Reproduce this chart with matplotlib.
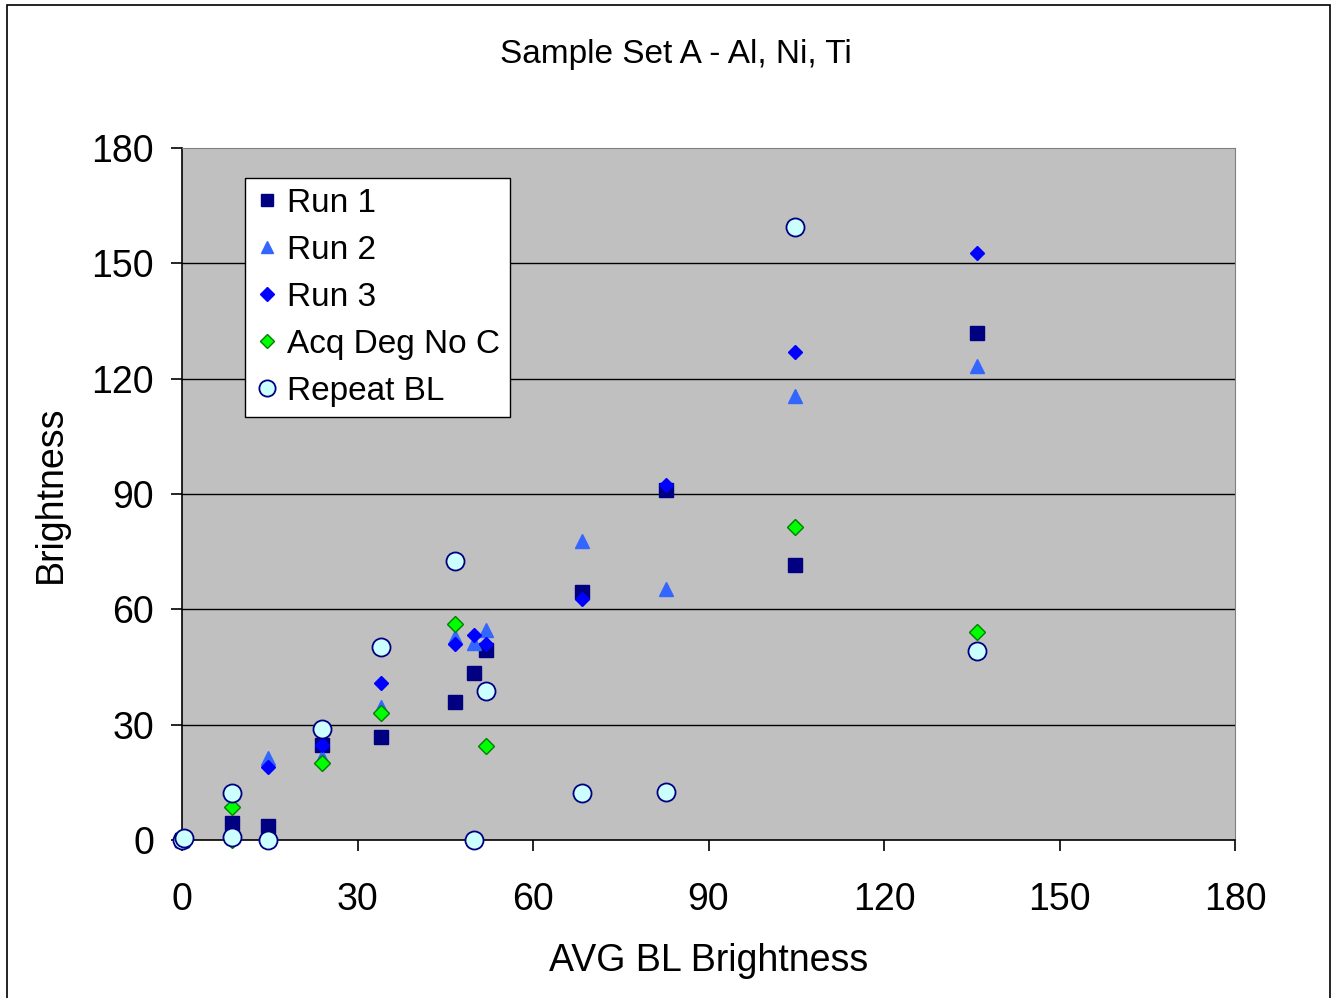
import matplotlib
matplotlib.use("Agg")
import matplotlib.pyplot as plt
from matplotlib.patches import Rectangle

# ─── DATA ────────────────────────────────────────────────────
run1_x = [0, 8.5, 14.7, 23.9, 34.0, 46.7, 49.9, 52.0, 68.4, 82.7, 104.8, 135.9]
run1_y = [0, 4.5, 3.6, 24.6, 26.9, 36.0, 43.4, 49.4, 64.6, 91.0, 71.5, 132.0]

run2_x = [0, 14.7, 23.9, 34.0, 46.7, 49.9, 52.0, 68.4, 82.7, 104.8, 135.9]
run2_y = [0, 21.3, 21.7, 34.7, 52.9, 51.3, 54.5, 77.9, 65.2, 115.5, 123.4]

run3_x = [0, 14.7, 23.9, 34.0, 46.7, 49.9, 52.0, 68.4, 82.7, 104.8, 135.9]
run3_y = [0, 19.1, 24.6, 40.8, 51.1, 53.4, 51.1, 62.7, 92.3, 126.9, 152.8]

acq_x = [8.5, 8.5, 23.9, 34.0, 46.7, 52.0, 104.8, 135.9]
acq_y = [0, 8.6, 20.0, 33.0, 56.1, 24.5, 81.5, 54.2]

rep_x = [0, 0.4, 8.5, 8.5, 14.7, 23.9, 34.0, 46.7, 49.9, 52.0, 68.4, 82.7, 104.8, 135.9]
rep_y = [0, 0.5, 12.3, 0.7, 0, 28.8, 50.3, 72.7, 0, 38.7, 12.3, 12.6, 159.5, 49.2]

TICKS = [0, 30, 60, 90, 120, 150, 180]
FONT = "Liberation Sans"

# ─── FIGURE ──────────────────────────────────────────────────
fig = plt.figure(figsize=(13.32, 9.98), dpi=100)
ax = fig.add_axes([182 / 1332, 158 / 998, 1053 / 1332, 692 / 998])
ax.set_facecolor("#C0C0C0")

# bordure extérieure
fig.patches.append(Rectangle((7 / 1332, -0.01), 1323 / 1332, 1.0 - 5 / 998 + 0.01,
                             transform=fig.transFigure, fill=False,
                             edgecolor="black", linewidth=1.2))

for y in TICKS[1:-1]:
    ax.axhline(y, color="black", linewidth=1.0, zorder=1)

common = dict(linestyle="none", clip_on=False, zorder=3)
ax.plot(run1_x, run1_y, marker="s", ms=9.5, color="#000080", mec="#000080",
        label="Run 1", **common)
ax.plot(run2_x, run2_y, marker="^", ms=10, color="#3366FF", mec="#3366FF",
        label="Run 2", **common)
ax.plot(run3_x, run3_y, marker="D", ms=7.5, color="#0000FF", mec="#0000FF",
        label="Run 3", **common)
ax.plot(acq_x, acq_y, marker="D", ms=8, color="#00FF00", mec="#008000",
        mew=1.0, label="Acq Deg No C", **common)
ax.plot(rep_x, rep_y, marker="o", ms=13, color="#CCFFFF", mec="#000080",
        mew=1.3, label="Repeat BL", **common)

ax.set_xlim(0, 180)
ax.set_ylim(0, 180)
ax.set_xticks(TICKS)
ax.set_yticks(TICKS)
ax.tick_params(direction="out", length=8, width=1.2, color="black",
               labelsize=27)
ax.tick_params(axis="x", pad=22)
ax.tick_params(axis="y", pad=12)
for lab in ax.get_xticklabels() + ax.get_yticklabels():
    lab.set_fontfamily(FONT)

ax.spines["left"].set_color("black")
ax.spines["bottom"].set_color("black")
ax.spines["left"].set_linewidth(1.2)
ax.spines["bottom"].set_linewidth(1.2)
ax.spines["top"].set_color("#808080")
ax.spines["right"].set_color("#808080")

ax.set_xlabel("AVG BL Brightness", fontsize=27, family=FONT, labelpad=18)
ax.set_ylabel("Brightness", fontsize=27, family=FONT, labelpad=16)
fig.text(676 / 1332, 1 - 54 / 998, "Sample Set A - Al, Ni, Ti", fontsize=24,
         family=FONT, ha="center", va="center")

leg = ax.legend(loc="upper left", bbox_to_anchor=(63 / 1053, 1 - 30 / 692),
                prop={"family": FONT, "size": 24}, frameon=True, fancybox=False,
                framealpha=1.0, borderaxespad=0, handletextpad=0.25,
                labelspacing=0.48, borderpad=0.3, handlelength=0.7,
                markerscale=0.9)
leg.get_frame().set_edgecolor("black")
leg.get_frame().set_facecolor("white")
leg.get_frame().set_linewidth(1.0)

plt.savefig("out.png", dpi=100)
plt.close()
